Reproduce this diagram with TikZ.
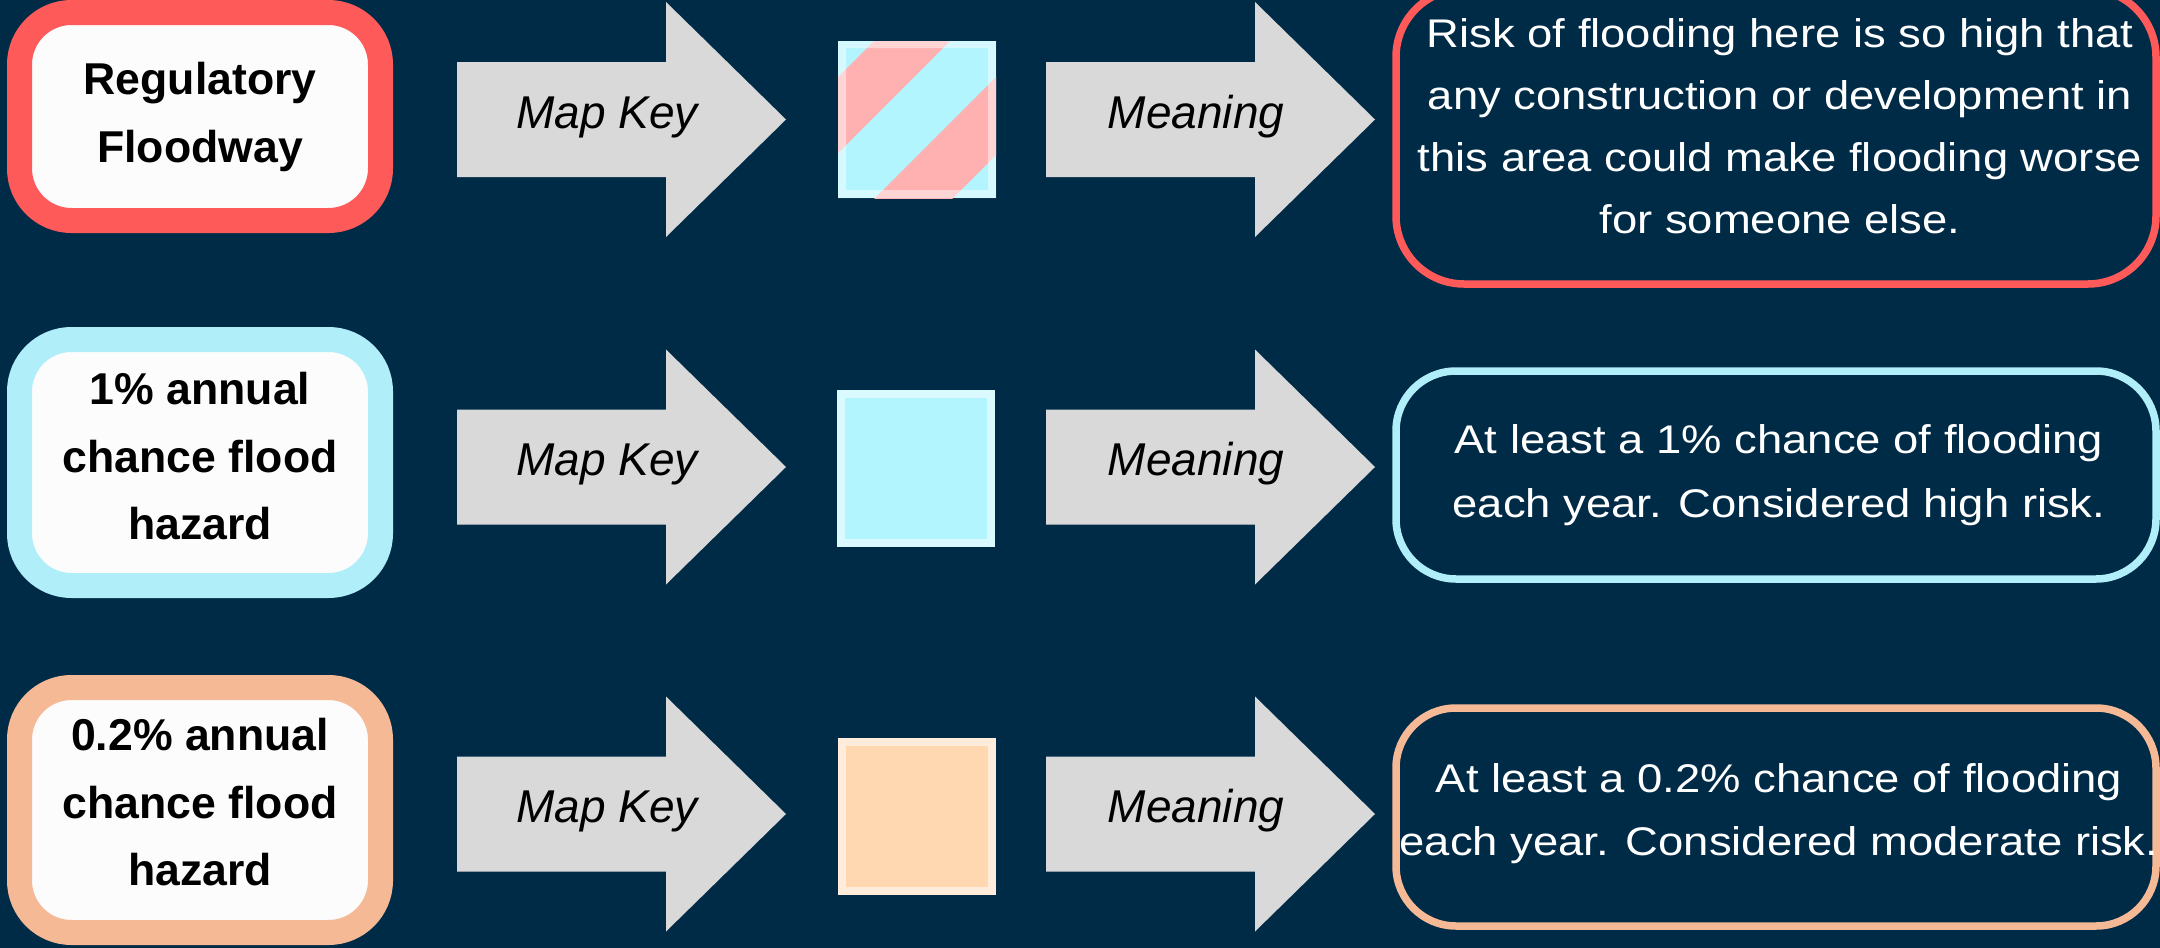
\documentclass[tikz,border=0pt]{standalone}
\usepackage{fontspec}
\setmainfont{Liberation Sans}
\newfontfamily\descfont[FakeStretch=1.135]{Liberation Sans}
\definecolor{bg}{HTML}{002B47}
\definecolor{redb}{HTML}{FF5A5A}
\definecolor{cyanb}{HTML}{B0EEF9}
\definecolor{peachb}{HTML}{F5B996}
\definecolor{boxwhite}{HTML}{FCFCFC}
\definecolor{arrowgray}{HTML}{D9D9D9}
\definecolor{sqcyan}{HTML}{B3F5FF}
\definecolor{sqcyanedge}{HTML}{DAFAFF}
\definecolor{sqpeach}{HTML}{FFD8B1}
\definecolor{sqpeachedge}{HTML}{FFECDA}
\definecolor{sqpink}{HTML}{FFB1B1}
\tikzset{
 catbox/.style={line width=12.5pt, rounded corners=26pt, fill=boxwhite, inner sep=0pt, minimum width=180.5pt},
 cattext/.style={font=\bfseries\fontsize{22.3pt}{33.75pt}\selectfont, align=center, text=black, inner sep=0pt},
 arrowbody/.style={fill=arrowgray},
 arrowlabel/.style={font=\itshape\fontsize{23pt}{27pt}\selectfont, text=black, inner sep=0pt, anchor=base},
 descbox/.style={line width=3.75pt, rounded corners=30pt, inner sep=0pt, minimum width=380pt},
 desctext/.style={align=center, text=white, inner sep=0pt},
 keysq/.style={line width=4pt, minimum width=75pt, minimum height=74.5pt, inner sep=0pt},
}
\newcommand\mkarrow[2]{%
  \fill[arrowbody] ({#1+457},{#2-57.5}) -- ({#1+666},{#2-57.5}) -- ({#1+666},{#2-117.5})
    -- ({#1+786},{#2}) -- ({#1+666},{#2+117.5}) -- ({#1+666},{#2+57.5}) -- ({#1+457},{#2+57.5}) -- cycle;}
\begin{document}
\begin{tikzpicture}[x=0.5pt,y=-0.5pt]
\fill[bg] (0,0) rectangle (2160,948);
\useasboundingbox (0,0) rectangle (2160,948);

% left category boxes
\node[catbox, draw=redb, minimum height=104pt] (c1) at (200,116.5) {};
\node[catbox, draw=cyanb, minimum height=123pt] (c2) at (200,462.5) {};
\node[catbox, draw=peachb, minimum height=122.5pt] (c3) at (200,810) {};
\node[cattext] (t1) at (200,117) {Regulatory\\Floodway};
\node[cattext] (t2) at (200,456.2) {1\% annual\\chance flood\\hazard};
\node[cattext] (t3) at (200,802.2) {0.2\% annual\\chance flood\\hazard};

% arrows
\mkarrow{0}{119.5}
\mkarrow{0}{467}
\mkarrow{0}{814}
\mkarrow{589}{119.5}
\mkarrow{589}{467}
\mkarrow{589}{814}
\node[arrowlabel] (mk1) at (607,128) {Map Key};
\node[arrowlabel] (mk2) at (607,475.5) {Map Key};
\node[arrowlabel] (mk3) at (607,822.5) {Map Key};
\node[arrowlabel] (mn1) at (1196,128) {Meaning};
\node[arrowlabel] (mn2) at (1196,475.5) {Meaning};
\node[arrowlabel] (mn3) at (1196,822.5) {Meaning};

% key squares
\begin{scope}
\clip (838,41) rectangle (996,198);
\fill[sqcyan] (838,41) rectangle (996,198);
\fill[sqpink] (874,41) -- (950,41) -- (838,153) -- (838,77) -- cycle;
\fill[sqpink] (1032,41) -- (1110,41) -- (838,313) -- (838,235) -- cycle;
\end{scope}
\fill[white, opacity=0.45, even odd rule] (838,41) rectangle (996,198) (846,48) rectangle (988,190);
\node[keysq, fill=sqcyan, draw=sqcyanedge] (k2) at (916,468.5) {};
\node[keysq, fill=sqpeach, draw=sqpeachedge] (k3) at (917,816.5) {};

% meaning boxes
\node[descbox, draw=redb, minimum height=147.5pt, rounded corners=34pt] (d1) at (1776,136.5) {};
\node[descbox, draw=cyanb, minimum height=104pt] (d2) at (1776,475) {};
\node[descbox, draw=peachb, minimum height=109pt] (d3) at (1776,817) {};
\node[desctext, font=\descfont\fontsize{20pt}{31pt}\selectfont] (e1) at (1780,126)
  {Risk of flooding here is so high that\\any construction or development in\\this area could make flooding worse\\for someone else.};
\node[desctext, font=\descfont\fontsize{20pt}{32pt}\selectfont] (e2) at (1779,474.7)
  {At least a 1\% chance of flooding\\each year. Considered high risk.};
\node[desctext, font=\descfont\fontsize{20pt}{31.5pt}\selectfont] (e3) at (1779,813.2)
  {At least a 0.2\% chance of flooding\\each year. Considered moderate risk.};
\end{tikzpicture}
\end{document}
